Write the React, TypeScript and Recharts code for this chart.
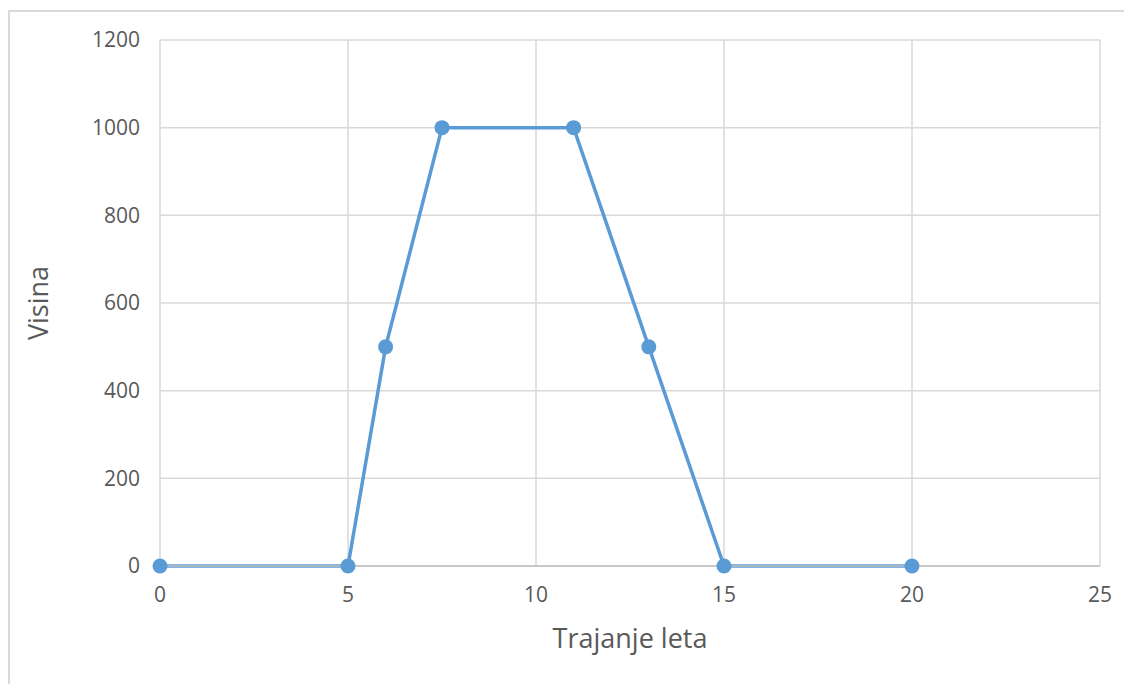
import React from 'react';
import { LineChart, Line, XAxis, YAxis, CartesianGrid, Label } from 'recharts';

const durations = [0, 5, 6, 7.5, 11, 13, 15, 20];
const heights = [0, 0, 500, 1000, 1000, 500, 0, 0];
const xTicks = [0, 5, 10, 15, 20, 25];
const yTicks = [0, 200, 400, 600, 800, 1000, 1200];

const data = durations.map((d, i) => ({ x: d, y: heights[i] }));

const FONT = '"Open Sans", "Liberation Sans", sans-serif';

export default function App() {
  return (
    <div style={{ marginTop: 2, borderTop: '2px solid #d9d9d9', borderLeft: '2px solid #d9d9d9', width: 1140, height: 690, boxSizing: 'border-box' }}>
      <LineChart width={1130} height={680} data={data} margin={{ top: 28, right: 40, bottom: 0, left: 0 }} style={{ fontFamily: FONT }}>
        <CartesianGrid stroke="#d9d9d9" strokeWidth={1.5} />
        <XAxis
          dataKey="x"
          type="number"
          domain={[0, 25]}
          ticks={xTicks}
          tickSize={0}
          tickMargin={21}
          axisLine={{ stroke: '#bfbfbf', strokeWidth: 1.5 }}
          tick={{ fill: '#595959', fontSize: 21, fontFamily: FONT }}
          height={126}
        >
          <Label value="Trajanje leta" position="insideBottom" offset={44} fill="#595959" fontSize={27} fontFamily={FONT} />
        </XAxis>
        <YAxis
          type="number"
          domain={[0, 1200]}
          ticks={yTicks}
          tickSize={0}
          tickMargin={20}
          axisLine={false}
          width={150}
          tick={{ fill: '#595959', fontSize: 21, fontFamily: FONT }}
        >
          <Label value="Visina" angle={-90} position="insideLeft" offset={28} textAnchor="middle" fill="#595959" fontSize={27} fontFamily={FONT} />
        </YAxis>
        <Line
          dataKey="y"
          stroke="#5b9bd5"
          strokeWidth={3.5}
          dot={{ r: 7.5, fill: '#5b9bd5', stroke: '#5b9bd5', strokeWidth: 0 }}
          isAnimationActive={false}
        />
      </LineChart>
    </div>
  );
}
